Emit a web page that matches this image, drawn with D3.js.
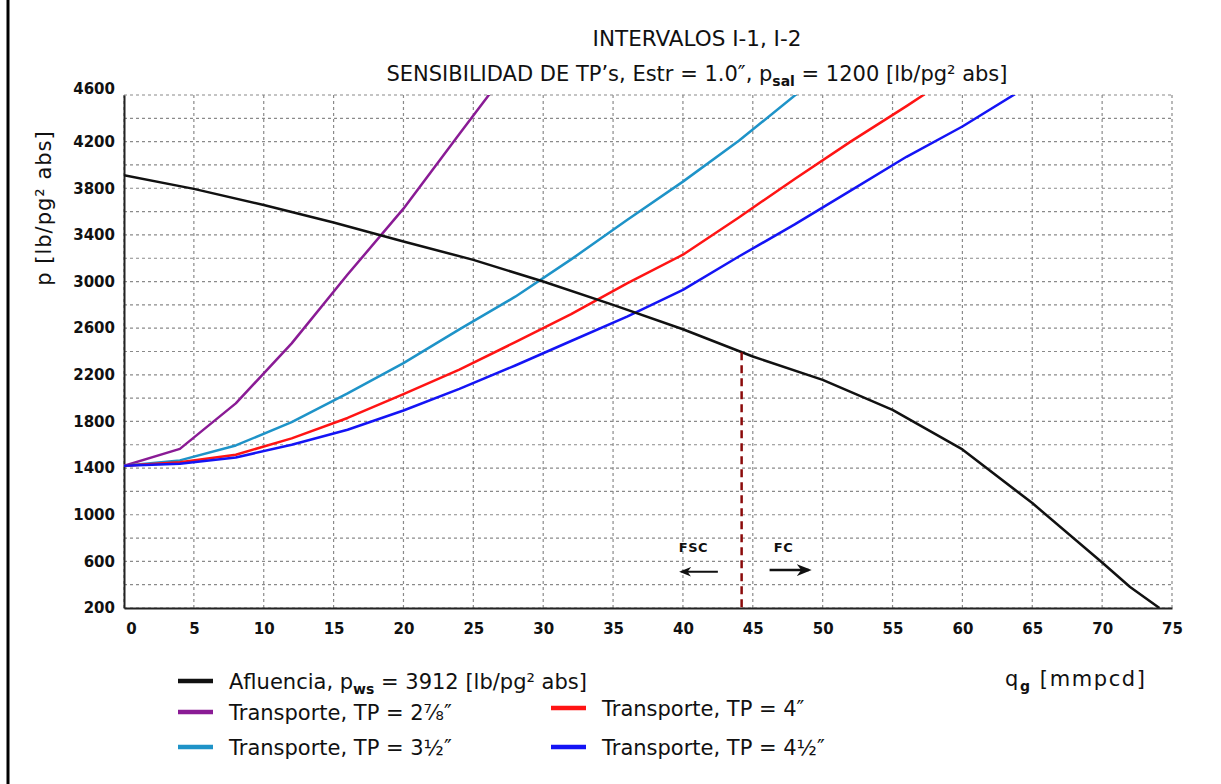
<!DOCTYPE html>
<html>
<head>
<meta charset="utf-8">
<script src="https://cdn.jsdelivr.net/npm/d3@7"></script>
<style>
  html, body { margin: 0; padding: 0; background: #fff; }
  svg { display: block; }
  text { font-family: "DejaVu Sans", Verdana, sans-serif; fill: #111; }
</style>
</head>
<body>
<svg id="chart" width="1221" height="784"></svg>
<script>
// Inflow curve (Afluencia): gas rate [mmpcd] vs bottom pressure [lb/pg² abs]
const qAfluencia = [0, 5, 10, 15, 20, 25, 30, 35, 40, 45, 50, 55, 60, 65, 70, 72, 74.1];
const pAfluencia = [3912, 3795, 3657, 3506, 3343, 3186, 3000, 2800, 2591, 2357, 2157, 1900, 1560, 1100, 590, 380, 200];

// Outflow (Transporte) curves, one per tubing size, sampled every 4 mmpcd
const qTransporte = [0, 4, 8, 12, 16, 20, 24, 28, 32, 36, 40, 44, 48, 52, 56, 60, 64];
const pTP278 = [1420, 1565, 1955, 2470, 3060, 3625, 4265, 4900];
const pTP312 = [1420, 1466, 1594, 1795, 2040, 2300, 2590, 2870, 3190, 3527, 3857, 4207, 4595, 4980];
const pTP4   = [1420, 1450, 1515, 1655, 1830, 2035, 2245, 2480, 2720, 2985, 3230, 3550, 3880, 4200, 4505, 4820];
const pTP412 = [1420, 1437, 1491, 1600, 1729, 1894, 2080, 2280, 2490, 2700, 2929, 3215, 3490, 3780, 4070, 4330, 4625];

const xTicks = [0, 5, 10, 15, 20, 25, 30, 35, 40, 45, 50, 55, 60, 65, 70, 75];
const yTicks = [200, 600, 1000, 1400, 1800, 2200, 2600, 3000, 3400, 3800, 4200, 4600];
const yGrid = d3.range(200, 4601, 200);

// Limit between unstable (FSC) and stable (FC) flow
const qLimite = 44.2;

const series = [
  { name: "tp278", p: pTP278, color: "#8a1b95" },
  { name: "tp312", p: pTP312, color: "#1e93c8" },
  { name: "tp4",   p: pTP4,   color: "#ff1414" },
  { name: "tp412", p: pTP412, color: "#1414f5" }
];

const svg = d3.select("#chart");
const plot = { left: 124, right: 1172, top: 95, bottom: 608 };

const x = d3.scaleLinear().domain([0, 75]).range([plot.left, plot.right]);
const y = d3.scaleLinear().domain([200, 4600]).range([plot.bottom, plot.top]);

// left frame stroke
svg.append("line").attr("x1", 8).attr("x2", 8).attr("y1", 0).attr("y2", 784)
  .attr("stroke", "#000").attr("stroke-width", 3);

const defs = svg.append("defs");
defs.append("clipPath").attr("id", "plotClip")
  .append("rect").attr("x", plot.left).attr("y", plot.top)
  .attr("width", plot.right - plot.left).attr("height", plot.bottom - plot.top);

// grid
const grid = svg.append("g").attr("stroke", "#8a8a8a").attr("stroke-width", 1.2)
  .attr("stroke-dasharray", "3,3");
grid.selectAll("line.h").data(yGrid).join("line").attr("class", "h")
  .attr("x1", plot.left).attr("x2", plot.right)
  .attr("y1", d => y(d)).attr("y2", d => y(d));
grid.selectAll("line.v").data(xTicks).join("line").attr("class", "v")
  .attr("y1", plot.top).attr("y2", plot.bottom)
  .attr("x1", d => x(d)).attr("x2", d => x(d));

// axes
const xAxis = d3.axisBottom(x).tickValues(xTicks).tickSize(0).tickPadding(15)
  .tickFormat(d3.format("d"));
const gx = svg.append("g").attr("transform", `translate(0,${plot.bottom})`).call(xAxis);
gx.select(".domain").attr("stroke", "#222").attr("stroke-width", 2);
gx.selectAll("text").style("font-size", "15px").style("font-weight", "bold")
  .attr("dx", d => d === 0 ? 7 : 0);

const yAxis = d3.axisLeft(y).tickValues(yTicks).tickSize(0).tickPadding(9)
  .tickFormat(d3.format("d"));
const gy = svg.append("g").attr("transform", `translate(${plot.left},0)`).call(yAxis);
gy.select(".domain").attr("stroke", "#222").attr("stroke-width", 2);
gy.selectAll("text").style("font-size", "15px").style("font-weight", "bold")
  .attr("dy", d => d === 4600 ? "-0.1em" : "0.32em");

// curves
const line = d3.line().x(d => x(d[0])).y(d => y(d[1]));
const curves = svg.append("g").attr("clip-path", "url(#plotClip)").attr("fill", "none")
  .attr("stroke-width", 2.5).attr("stroke-linejoin", "round");

series.forEach(s => {
  curves.append("path")
    .datum(s.p.map((v, i) => [qTransporte[i], v]))
    .attr("stroke", s.color).attr("d", line);
});
curves.append("path")
  .datum(qAfluencia.map((q, i) => [q, pAfluencia[i]]))
  .attr("stroke", "#111").attr("d", line);

// operating limit marker
const pLimite = d3.scaleLinear().domain(qAfluencia).range(pAfluencia)(qLimite);
svg.append("line")
  .attr("x1", x(qLimite)).attr("x2", x(qLimite))
  .attr("y1", y(pLimite)).attr("y2", y(200))
  .attr("stroke", "#8b0a0a").attr("stroke-width", 2.5).attr("stroke-dasharray", "8,5");

// FSC / FC flow-regime arrows
defs.append("marker").attr("id", "arrowHead").attr("viewBox", "0 0 10 10")
  .attr("refX", 8).attr("refY", 5).attr("markerWidth", 6).attr("markerHeight", 6)
  .attr("markerUnits", "strokeWidth").attr("orient", "auto-start-reverse")
  .append("path").attr("d", "M0,1 L10,5 L0,9 L3,5 Z").attr("fill", "#111");

svg.append("line")
  .attr("x1", x(42.5)).attr("x2", x(39.9)).attr("y1", y(510)).attr("y2", y(510))
  .attr("stroke", "#111").attr("stroke-width", 2).attr("marker-end", "url(#arrowHead)");
svg.append("line")
  .attr("x1", x(46.2)).attr("x2", x(49.0)).attr("y1", y(525)).attr("y2", y(525))
  .attr("stroke", "#111").attr("stroke-width", 2.5).attr("marker-end", "url(#arrowHead)");

svg.append("text").attr("x", x(40.75)).attr("y", y(723)).attr("dy", "0.36em")
  .attr("text-anchor", "middle").style("font-size", "13px").style("font-weight", "bold")
  .style("letter-spacing", "0.5px").text("FSC");
svg.append("text").attr("x", x(47.2)).attr("y", y(723)).attr("dy", "0.36em")
  .attr("text-anchor", "middle").style("font-size", "13px").style("font-weight", "bold")
  .style("letter-spacing", "0.5px").text("FC");

// titles
svg.append("text").attr("x", 697).attr("y", 46).attr("text-anchor", "middle")
  .style("font-size", "21.5px").text("INTERVALOS I-1, I-2");

const sub = svg.append("text").attr("x", 697).attr("y", 81).attr("text-anchor", "middle")
  .style("font-size", "21px");
sub.append("tspan").text("SENSIBILIDAD DE TP’s, Estr = 1.0″, p");
sub.append("tspan").attr("dy", 5).style("font-size", "14px").style("font-weight", "bold").text("sal");
sub.append("tspan").attr("dy", -5).text(" = 1200 [lb/pg² abs]");

// axis titles
svg.append("text").attr("transform", "translate(51,208) rotate(-90)")
  .attr("text-anchor", "middle").style("font-size", "21px").style("letter-spacing", "1px")
  .text("p [lb/pg² abs]");

const qt = svg.append("text").attr("x", 1005).attr("y", 686).style("font-size", "21px")
  .style("letter-spacing", "1.6px");
qt.append("tspan").text("q");
qt.append("tspan").attr("dy", 5).style("font-size", "14px").style("font-weight", "bold").text("g");
qt.append("tspan").attr("dy", -5).text(" [mmpcd]");

// legend
const legendItems = [
  { color: "#111",    x: 178, y: 681, parts: [["Afluencia, p"], ["ws", true], [" = 3912 [lb/pg² abs]"]] },
  { color: "#8a1b95", x: 178, y: 712, parts: [["Transporte, TP = 2⅞″"]] },
  { color: "#1e93c8", x: 178, y: 747, parts: [["Transporte, TP = 3½″"]] },
  { color: "#ff1414", x: 551, y: 708, parts: [["Transporte, TP = 4″"]] },
  { color: "#1414f5", x: 551, y: 747, parts: [["Transporte, TP = 4½″"]] }
];
legendItems.forEach(it => {
  svg.append("line").attr("x1", it.x).attr("x2", it.x + 35)
    .attr("y1", it.y).attr("y2", it.y).attr("stroke", it.color).attr("stroke-width", 4.5);
  const t = svg.append("text").attr("x", it.x + 51).attr("y", it.y + 8).style("font-size", "21px");
  it.parts.forEach(([s, isSub], i) => {
    const ts = t.append("tspan").text(s);
    if (isSub) ts.attr("dy", 5).style("font-size", "14px").style("font-weight", "bold");
    else if (i > 0 && it.parts[i - 1][1]) ts.attr("dy", -5);
  });
});
</script>
</body>
</html>
